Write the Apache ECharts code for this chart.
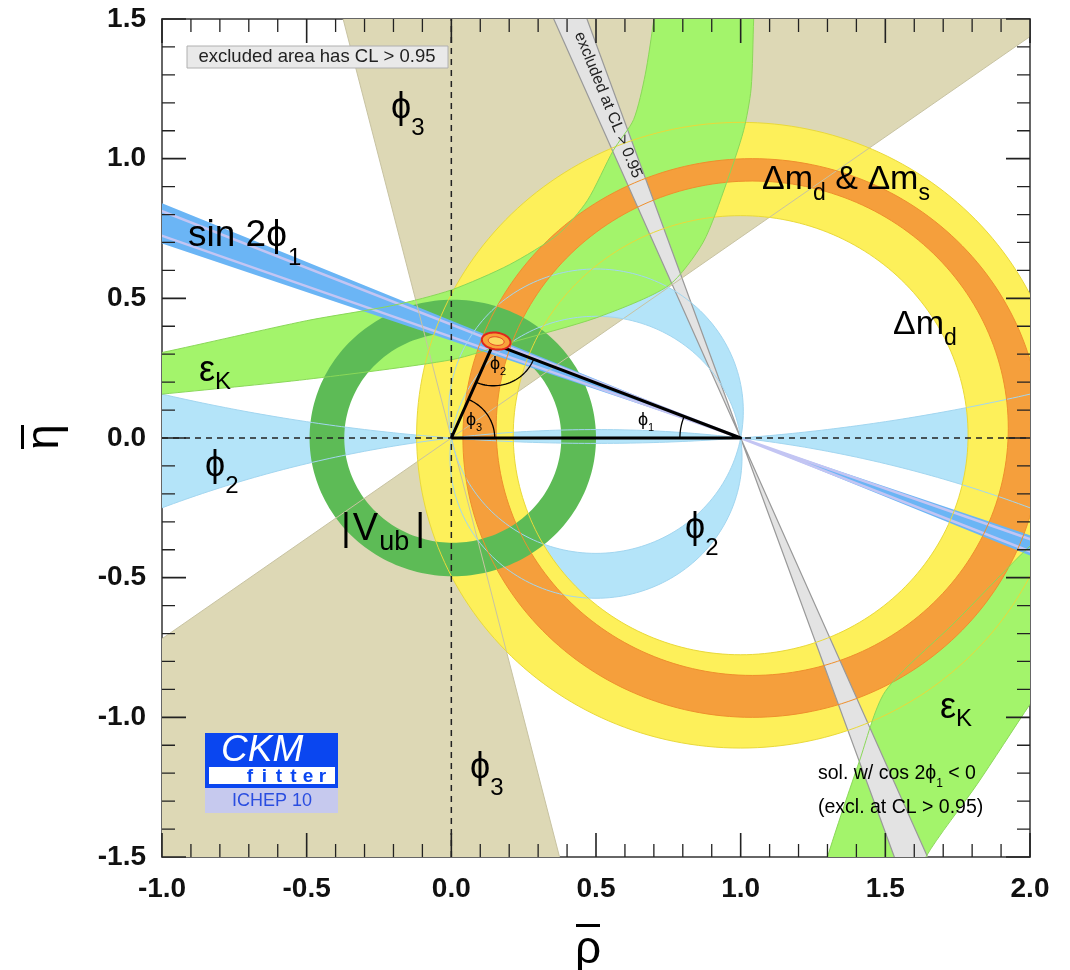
<!DOCTYPE html>
<html>
<head>
<meta charset="utf-8">
<script src="https://cdn.jsdelivr.net/npm/echarts@6/dist/echarts.min.js"></script>
<style>
  html, body { margin: 0; padding: 0; background: #fff; }
  #ckm { width: 1070px; height: 970px; }
</style>
</head>
<body>
<div id="ckm"></div>
<script>
// ---- axis ticks ----
const xMajor = [-1.0, -0.5, 0.0, 0.5, 1.0, 1.5, 2.0];
const yMajor = [-1.5, -1.0, -0.5, 0.0, 0.5, 1.0, 1.5];
const minorPerMajor = 5;

// ---- values (rho-bar, eta-bar plane) ----
const apex = [0.145, 0.337];                 // fitted apex of the triangle
const apexFit = [0.155, 0.347, 0.05, 0.03];  // cx, cy, rx, ry of the small fit blob

// double wedges through a vertex: [x, y, angle from, angle to] in degrees
const phi3Wedge = [0, 0, 35.7, 104];
const sin2phi1Wedge = [1, 0, 157.2, 160.8];
const sin2phi1Inner = [157.9, 160.1];
const exclWedge = [1, 0, 109.5, 113.3];

// rings: [cx, cy, r]
const vubOuter = [0.005, 0.0, 0.495];
const vubInner = [0.005, 0.0, 0.375];
const dmdOuter = [1.0, 0.01, 1.12];
const dmdInner = [1.0, 0.01, 0.786];
const dmsOuter = [1.04, 0.0, 1.0];
const dmsInner = [1.04, 0.035, 0.885];

// phi2: circles through (0,0) and (1,0), given by the height of their centre
const phi2Arcs = [0.096, -0.069];
const phi2Flat = [6.448, -4.125];

// eps_K band edges
const epsKUpperA = [[-1.1, 0.29], [-1.0, 0.306], [-0.5, 0.42], [-0.2, 0.475], [0.0, 0.53], [0.2, 0.62],
  [0.37, 0.73], [0.47, 0.85], [0.56, 1.03], [0.63, 1.14], [0.67, 1.3], [0.70, 1.5], [0.71, 1.6]];
const epsKUpperB = [[-1.1, 0.148], [-1.0, 0.157], [-0.5, 0.21], [0.0, 0.28], [0.2, 0.34], [0.5, 0.43],
  [0.75, 0.545], [0.87, 0.70], [0.95, 0.91], [1.01, 1.1], [1.036, 1.25], [1.045, 1.5], [1.05, 1.6]];
const epsKLowerA = [[2.05, -0.34], [1.97, -0.416], [1.744, -0.656], [1.5, -0.907], [1.41, -1.158], [1.30, -1.5], [1.28, -1.6]];
const epsKLowerB = [[2.05, -0.88], [2.0, -0.953], [1.817, -1.24], [1.64, -1.5], [1.62, -1.6]];

// ---- colours ----
const C = {
  tan: '#ddd8b5', tanLine: '#c8c3a2',
  ltBlue: '#b4e4f9', ltBlueLine: '#a2d6f0',
  yellow: '#fdf05a', yellowLine: '#e9d93a',
  green: '#a3f46b', greenLine: '#8ad858',
  orange: '#f59f3c', orangeLine: '#ef8f2c',
  dkGreen: '#5dbb56',
  blue: '#6bb5f5', lavender: '#c3c5f3',
  grey: '#e3e3e3', greyLine: '#999'
};

const D2R = Math.PI / 180;
const FONT = '"Liberation Sans", Arial, Helvetica, "DejaVu Sans", sans-serif';

function circle(c, t0, t1, n) {
  const pts = [];
  for (let i = 0; i <= n; i++) {
    const t = t0 + (t1 - t0) * i / n;
    pts.push([c[0] + c[2] * Math.cos(t), c[1] + c[2] * Math.sin(t)]);
  }
  return pts;
}
function ring(outer, inner) {
  return [circle(outer, 0, 2 * Math.PI, 200), circle(inner, 2 * Math.PI, 0, 200)];
}
function wedge(w, R) {
  const [x0, y0, a0, a1] = w;
  const tri = (b0, b1) => [[x0, y0],
    [x0 + R * Math.cos(b0 * D2R), y0 + R * Math.sin(b0 * D2R)],
    [x0 + R * Math.cos(b1 * D2R), y0 + R * Math.sin(b1 * D2R)]];
  return [tri(a0, a1), tri(a0 + 180, a1 + 180)];
}
function line(x0, y0, ang, R) {
  return [[x0 - R * Math.cos(ang * D2R), y0 - R * Math.sin(ang * D2R)],
          [x0 + R * Math.cos(ang * D2R), y0 + R * Math.sin(ang * D2R)]];
}
// circle through (0,0) and (1,0) with centre (0.5, k)
function thruCircle(k) { return [0.5, k, Math.sqrt(0.25 + k * k)]; }
function flatEdge(k) {
  const c = thruCircle(k), pts = [];
  for (let x = -1.1; x <= 2.1001; x += 0.02) {
    pts.push([x, k - Math.sign(k) * Math.sqrt(c[2] * c[2] - (x - 0.5) * (x - 0.5))]);
  }
  return pts;
}
function ellipse(e, rot, n) {
  const pts = [];
  for (let i = 0; i < n; i++) {
    const t = 2 * Math.PI * i / n;
    const dx = e[2] * Math.cos(t), dy = e[3] * Math.sin(t);
    pts.push([e[0] + dx * Math.cos(rot) - dy * Math.sin(rot), e[1] + dx * Math.sin(rot) + dy * Math.cos(rot)]);
  }
  return pts;
}
function minorOf(major) {
  const out = [];
  for (let i = 0; i < major.length - 1; i++) {
    const step = (major[i + 1] - major[i]) / minorPerMajor;
    for (let j = 1; j < minorPerMajor; j++) out.push(major[i] + j * step);
  }
  return out;
}

// ---- shapes in data space ----
const c1 = thruCircle(phi2Arcs[0]), c2 = thruCircle(phi2Arcs[1]);
const a1 = Math.atan2(-phi2Arcs[0], 0.5), a2 = Math.atan2(-phi2Arcs[1], 0.5);
const phi2Upper = circle(c1, a1, Math.PI - a1, 120).concat(circle(c2, Math.PI - a2, a2, 120));
const phi2Lower = circle(c2, Math.PI - a2, 2 * Math.PI + a2, 120).concat(circle(c1, 2 * Math.PI + a1, Math.PI - a1, 120));
const flatU = flatEdge(phi2Flat[0]), flatL = flatEdge(phi2Flat[1]);
const phi2Flatband = flatU.concat(flatL.slice().reverse());

const apexAng = Math.atan2(apex[1], apex[0]);
const toOrigin = Math.atan2(-apex[1], -apex[0]);
const toOne = Math.atan2(-apex[1], 1 - apex[0]);
const atOne = Math.atan2(apex[1], apex[0] - 1);

function paths(rings, style, z, closed) {
  return {
    type: 'custom', z: z, clip: true, silent: true,
    coordinateSystem: 'cartesian2d',
    data: [[0, 0]],
    renderItem: function (params, api) {
      const d = rings.map(r => 'M' + r.map(p => api.coord(p).join(' ')).join('L') + (closed ? 'Z' : '')).join('');
      return { type: 'path', shape: { pathData: d }, style: Object.assign({ fill: closed ? '#000' : 'none' }, style) };
    }
  };
}
function smoothPoly(pts, style, z, closed) {
  return {
    type: 'custom', z: z, clip: true, silent: true,
    coordinateSystem: 'cartesian2d',
    data: [[0, 0]],
    renderItem: function (params, api) {
      const p = pts.map(q => api.coord(q));
      return { type: closed ? 'polygon' : 'polyline', shape: { points: p, smooth: 0.25 },
        style: Object.assign({ fill: closed ? '#000' : 'none' }, style) };
    }
  };
}
// inward ticks on all four sides, painted above the bands
function tickSeries(z) {
  return {
    type: 'custom', z: z, silent: true,
    coordinateSystem: 'cartesian2d',
    data: [[0, 0]],
    renderItem: function (params, api) {
      const lo = api.coord([xMajor[0], yMajor[0]]);
      const hi = api.coord([xMajor[xMajor.length - 1], yMajor[yMajor.length - 1]]);
      const build = (xs, ys, len) => {
        let d = '';
        xs.forEach(v => {
          const px = api.coord([v, 0])[0];
          d += 'M' + px + ' ' + lo[1] + 'L' + px + ' ' + (lo[1] - len);
          d += 'M' + px + ' ' + hi[1] + 'L' + px + ' ' + (hi[1] + len);
        });
        ys.forEach(v => {
          const py = api.coord([0, v])[1];
          d += 'M' + lo[0] + ' ' + py + 'L' + (lo[0] + len) + ' ' + py;
          d += 'M' + hi[0] + ' ' + py + 'L' + (hi[0] - len) + ' ' + py;
        });
        return d;
      };
      return { type: 'group', children: [
        { type: 'path', shape: { pathData: build(xMajor, yMajor, 24) }, style: { fill: 'none', stroke: '#222', lineWidth: 1.6 } },
        { type: 'path', shape: { pathData: build(minorOf(xMajor), minorOf(yMajor), 13) }, style: { fill: 'none', stroke: '#222', lineWidth: 1.3 } }
      ] };
    }
  };
}

const series = [
  paths(wedge(phi3Wedge, 8), { fill: C.tan }, 1, true),
  paths([phi2Upper, phi2Lower, phi2Flatband], { fill: C.ltBlue }, 2, true),
  paths(ring(dmdOuter, dmdInner), { fill: C.yellow }, 3, true),
  smoothPoly(epsKUpperA.concat(epsKUpperB.slice().reverse()), { fill: C.green }, 4, true),
  smoothPoly(epsKLowerA.concat(epsKLowerB.slice().reverse()), { fill: C.green }, 4, true),
  paths(ring(dmsOuter, dmsInner), { fill: C.orange }, 5, true),
  paths(ring(vubOuter, vubInner), { fill: C.dkGreen }, 6, true),
  paths(wedge(sin2phi1Wedge, 6), { fill: C.blue }, 7, true),
  paths([line(1, 0, sin2phi1Inner[0], 6), line(1, 0, sin2phi1Inner[1], 6)], { stroke: C.lavender, lineWidth: 2.5 }, 8, false),
  paths(wedge(exclWedge, 6), { fill: C.grey, stroke: C.greyLine, lineWidth: 1.2 }, 9, true),
  // contour lines drawn over the fills
  paths([line(0, 0, phi3Wedge[2], 6), line(0, 0, phi3Wedge[3], 6)], { stroke: C.tanLine, lineWidth: 1 }, 10, false),
  paths([circle(c1, 0, 2 * Math.PI, 200), circle(c2, 0, 2 * Math.PI, 200), flatU, flatL], { stroke: C.ltBlueLine, lineWidth: 1 }, 10, false),
  paths([circle(dmdOuter, 0, 2 * Math.PI, 240), circle(dmdInner, 0, 2 * Math.PI, 240)], { stroke: C.yellowLine, lineWidth: 1 }, 10, false),
  paths([circle(dmsOuter, 0, 2 * Math.PI, 240), circle(dmsInner, 0, 2 * Math.PI, 240)], { stroke: C.orangeLine, lineWidth: 1 }, 10, false),
  smoothPoly(epsKUpperA, { stroke: C.greenLine, lineWidth: 1 }, 10, false),
  smoothPoly(epsKUpperB, { stroke: C.greenLine, lineWidth: 1 }, 10, false),
  smoothPoly(epsKLowerA, { stroke: C.greenLine, lineWidth: 1 }, 10, false),
  smoothPoly(epsKLowerB, { stroke: C.greenLine, lineWidth: 1 }, 10, false),
  // dashed axes through the origin
  paths([[[0, -1.5], [0, 1.5]], [[-1, 0], [2, 0]]], { stroke: '#222', lineWidth: 1.5, lineDash: [6, 5] }, 11, false),
  // unitarity triangle and its angles
  paths([[[0, 0], [1, 0], apex, [0, 0]]], { stroke: '#000', lineWidth: 3, lineJoin: 'round' }, 12, false),
  paths([circle([0, 0, 0.15], 0, apexAng, 30),
         circle([apex[0], apex[1], 0.15], toOrigin, toOne, 30),
         circle([1, 0, 0.21], atOne, Math.PI, 30)], { stroke: '#000', lineWidth: 1.3 }, 12, false),
  paths([ellipse(apexFit, -0.15, 60)], { fill: '#f7a23a', stroke: '#e0261c', lineWidth: 2 }, 13, true),
  paths([ellipse([apexFit[0], apexFit[1], apexFit[2] * 0.55, apexFit[3] * 0.5], -0.15, 40)], { fill: '#fbd860', stroke: '#e0261c', lineWidth: 0.8 }, 13, true),
  tickSeries(14)
];

const axisBase = {
  type: 'value',
  interval: 0.5,
  axisLine: { onZero: false, lineStyle: { color: '#666', width: 2 } },
  axisTick: { show: false },
  minorTick: { show: false },
  splitLine: { show: false },
  minorSplitLine: { show: false }
};
const tickLabel = {
  formatter: v => v.toFixed(1),
  fontFamily: FONT, fontWeight: 'bold', fontSize: 28, color: '#111'
};

// ---- annotation text: pieces laid out one after another ----
const measure = document.createElement('canvas').getContext('2d');
function txt(x, y, s, size, opt) {
  opt = opt || {};
  return {
    type: 'text', x: x, y: y, z: 100, silent: true, rotation: opt.rotation || 0,
    style: { text: s, font: (opt.weight || '') + ' ' + size + 'px ' + FONT, fill: opt.fill || '#000',
      align: opt.align || 'left', verticalAlign: 'middle' }
  };
}
// pieces: [text, size, dy, gapBefore]
function seq(x, y, pieces) {
  const out = [];
  let cx = x;
  pieces.forEach(p => {
    cx += p[3] || 0;
    out.push(txt(cx, y + (p[2] || 0), p[0], p[1]));
    measure.font = p[1] + 'px ' + FONT;
    cx += measure.measureText(p[0]).width;
  });
  return out;
}

const graphics = [].concat(
  // legend box
  [{ type: 'rect', z: 100, shape: { x: 187, y: 46, width: 261, height: 22 }, style: { fill: '#e9e9e9', stroke: '#b0b0b0', lineWidth: 1 } },
   txt(317, 57, 'excluded area has CL > 0.95', 18.5, { align: 'center', fill: '#222' })],
  seq(391, 108, [['ϕ', 36], ['3', 24, 20]]),
  seq(188, 236, [['sin 2ϕ', 37], ['1', 24, 22, 1]]),
  seq(199, 371, [['ε', 36], ['K', 24, 11]]),
  seq(205, 466, [['ϕ', 36], ['2', 24, 20]]),
  seq(341, 530, [['|', 38], ['V', 38, 0, 2], ['ub', 27, 13, 1], ['|', 38, 0, 6]]),
  seq(762, 180, [['Δm', 34], ['d', 23, 14], [' & Δm', 34], ['s', 23, 14]]),
  seq(893, 325, [['Δm', 34], ['d', 23, 14]]),
  seq(940, 708, [['ε', 36], ['K', 24, 11]]),
  seq(685, 528, [['ϕ', 36], ['2', 24, 20]]),
  seq(470, 768, [['ϕ', 36], ['3', 24, 20]]),
  // small labels on the triangle
  seq(638, 420, [['ϕ', 18], ['1', 11, 8]]),
  seq(490, 364, [['ϕ', 18], ['2', 11, 8]]),
  seq(466, 420, [['ϕ', 18], ['3', 11, 8]]),
  // cos 2phi1 note
  seq(818, 774, [['sol. w/ cos 2ϕ', 19.5], ['1', 12, 10], [' < 0', 19.5]]),
  seq(818, 808, [['(excl. at CL > 0.95)', 19.5]]),
  // label along the excluded wedge
  [txt(608, 105, 'excluded at CL > 0.95', 16, { rotation: -67.9 * D2R, align: 'center', fill: '#222' })],
  // CKMfitter logo
  [{ type: 'rect', z: 100, shape: { x: 205, y: 733, width: 133, height: 55 }, style: { fill: '#0a46f0' } },
   { type: 'rect', z: 100, shape: { x: 209, y: 767, width: 126, height: 17 }, style: { fill: '#fff' } },
   { type: 'rect', z: 100, shape: { x: 205, y: 788, width: 133, height: 25 }, style: { fill: '#c6c9ee' } },
   txt(221, 751, 'CKM', 37, { weight: 'italic', fill: '#fff' }),
   txt(272, 801, 'ICHEP 10', 18, { align: 'center', fill: '#2a4de0' })],
  ['f', 'i', 't', 't', 'e', 'r'].map((ch, i) => txt(250 + i * 14.5, 777, ch, 19, { weight: 'bold', align: 'center', fill: '#0a46f0' })),
  // axis titles with overbars
  [txt(588, 950, 'ρ', 46, { align: 'center' }),
   { type: 'rect', z: 100, shape: { x: 576, y: 924, width: 24, height: 3 }, style: { fill: '#000' } },
   txt(45, 437, 'η', 46, { align: 'center', rotation: Math.PI / 2 }),
   { type: 'rect', z: 100, shape: { x: 21, y: 425, width: 3, height: 24 }, style: { fill: '#000' } }]
);

const chart = echarts.init(document.getElementById('ckm'));
chart.setOption({
  backgroundColor: '#fff',
  animation: false,
  grid: { left: 162, right: 40, top: 19, bottom: 113, containLabel: false },
  xAxis: [
    Object.assign({}, axisBase, { min: -1, max: 2, position: 'bottom', axisLabel: Object.assign({ margin: 18 }, tickLabel) }),
    Object.assign({}, axisBase, { min: -1, max: 2, position: 'top', axisLabel: { show: false } })
  ],
  yAxis: [
    Object.assign({}, axisBase, { min: -1.5, max: 1.5, position: 'left', axisLabel: Object.assign({ margin: 16 }, tickLabel) }),
    Object.assign({}, axisBase, { min: -1.5, max: 1.5, position: 'right', axisLabel: { show: false } })
  ],
  series: series,
  graphic: graphics
});
</script>
</body>
</html>
